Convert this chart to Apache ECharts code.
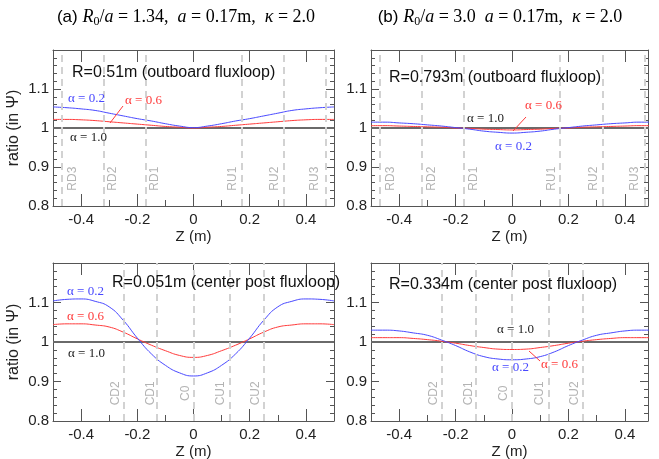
<!DOCTYPE html>
<html><head><meta charset="utf-8">
<script src="https://cdn.jsdelivr.net/npm/echarts@6/dist/echarts.min.js"></script>
<style>html,body{margin:0;padding:0;background:#fff}#c{width:659px;height:459px}</style>
</head><body><div id="c"></div><script>
// ---------- data ----------
const zValues = [-0.5,-0.45,-0.4,-0.35,-0.3,-0.25,-0.2,-0.15,-0.1,-0.05,0,0.05,0.1,0.15,0.2,0.25,0.3,0.35,0.4,0.45,0.5];
const alpha10 = [1,1,1,1,1,1,1,1,1,1,1,1,1,1,1,1,1,1,1,1,1];
// (a) outboard R=0.51m
const outA_alpha02 = [1.054,1.052,1.049,1.045,1.038,1.031,1.024,1.018,1.011,1.005,1.001,1.005,1.011,1.018,1.024,1.031,1.038,1.045,1.049,1.052,1.054];
const outA_alpha06 = [1.022,1.022,1.021,1.019,1.016,1.013,1.010,1.007,1.004,1.002,1.000,1.002,1.004,1.007,1.010,1.013,1.016,1.019,1.021,1.022,1.022];
// (b) outboard R=0.793m
const outB_alpha02 = [1.015,1.015,1.013,1.011,1.008,1.005,1.001,0.997,0.992,0.989,0.987,0.989,0.992,0.997,1.001,1.005,1.008,1.011,1.013,1.015,1.015];
const outB_alpha06 = [1.006,1.006,1.005,1.004,1.003,1.002,1.000,0.999,0.997,0.996,0.995,0.996,0.997,0.999,1.000,1.002,1.003,1.004,1.005,1.006,1.006];
// (a) center post R=0.051m
const cenA_alpha02 = [1.104,1.108,1.109,1.103,1.089,1.055,1.010,0.970,0.941,0.922,0.914,0.922,0.941,0.970,1.010,1.055,1.089,1.103,1.109,1.108,1.104];
const cenA_alpha06 = [1.044,1.046,1.046,1.043,1.038,1.025,1.008,0.992,0.978,0.966,0.961,0.966,0.978,0.992,1.008,1.025,1.038,1.043,1.046,1.046,1.044];
// (b) center post R=0.334m
const cenB_alpha02 = [1.030,1.030,1.028,1.023,1.017,1.005,0.991,0.975,0.963,0.957,0.955,0.957,0.963,0.975,0.991,1.005,1.017,1.023,1.028,1.030,1.030];
const cenB_alpha06 = [1.011,1.011,1.011,1.009,1.006,1.002,0.997,0.991,0.986,0.982,0.981,0.982,0.986,0.991,0.997,1.002,1.006,1.009,1.011,1.011,1.011];
// flux loop sensor positions
const outboardSensorZ = [-0.465,-0.322,-0.173,0.173,0.322,0.465];
const outboardSensorNames = ['RD3','RD2','RD1','RU1','RU2','RU3'];
const centerSensorZ = [-0.25,-0.125,0,0.125,0.25];
const centerSensorNames = ['CD2','CD1','C0','CU1','CU2'];
// ticks
const xMajorTicks = [-0.4,-0.2,0,0.2,0.4];
const xMinorTicks = [-0.3,-0.1,0.1,0.3];
const yTickLabels = [0.8,0.9,1,1.1];

// ---------- chart ----------
const SANS = '"Liberation Sans", Arial, sans-serif';
const SERIF = '"Liberation Serif", "Times New Roman", serif';
const AX = '#555';
const BLUE = '#4848ff', RED = '#ff3a3a', BLACK = '#6a6a6a';

const panels = [
  {left:53, top:50, width:281, height:156, xMax:0.5, blue:outA_alpha02, red:outA_alpha06, sz:outboardSensorZ, sn:outboardSensorNames, yName:'ratio (in Ψ)', outboard:true},
  {left:371, top:50, width:277, height:156, xMax:0.482, blue:outB_alpha02, red:outB_alpha06, sz:outboardSensorZ, sn:outboardSensorNames, yName:'', outboard:true},
  {left:53, top:263, width:281, height:158, xMax:0.5, blue:cenA_alpha02, red:cenA_alpha06, sz:centerSensorZ, sn:centerSensorNames, yName:'ratio (in Ψ)', outboard:false},
  {left:371, top:263, width:277, height:158, xMax:0.482, blue:cenB_alpha02, red:cenB_alpha06, sz:centerSensorZ, sn:centerSensorNames, yName:'', outboard:false}
];

const grid = [], xAxis = [], yAxis = [], series = [];
const zip = (xs, ys) => xs.map((x, i) => [x, ys[i]]);

panels.forEach((p, gi) => {
  grid.push({left:p.left, top:p.top, width:p.width, height:p.height, outerBoundsMode:'none', containLabel:false});
  const base = {type:'value', gridIndex:gi, min:-0.5, max:p.xMax, splitLine:{show:false}};
  xAxis.push(Object.assign({}, base, {
    position:'bottom',
    axisLine:{show:true, onZero:false, lineStyle:{color:AX, width:1}},
    axisTick:{show:true, inside:true, length:12, customValues:xMajorTicks, lineStyle:{color:AX}},
    axisLabel:{show:true, customValues:xMajorTicks, fontSize:15, color:'#222', margin:6, fontFamily:SANS},
    name:'Z (m)', nameLocation:'middle', nameGap:23,
    nameTextStyle:{fontSize:15, color:'#222', fontFamily:SANS}
  }));
  xAxis.push(Object.assign({}, base, {
    position:'bottom',
    axisLine:{show:false, onZero:false},
    axisTick:{show:true, inside:true, length:6, customValues:xMinorTicks, lineStyle:{color:AX}},
    axisLabel:{show:false}
  }));
  xAxis.push(Object.assign({}, base, {
    position:'top',
    axisLine:{show:true, onZero:false, lineStyle:{color:AX, width:1}},
    axisTick:{show:true, inside:true, length:12, customValues:xMajorTicks, lineStyle:{color:AX}},
    axisLabel:{show:false}
  }));
  const ybase = {type:'value', gridIndex:gi, min:0.8, max:1.2, interval:0.1, splitLine:{show:false}, minorSplitLine:{show:false}};
  yAxis.push(Object.assign({}, ybase, {
    position:'left',
    axisLine:{show:true, onZero:false, lineStyle:{color:AX, width:1}},
    axisTick:{show:true, inside:true, length:8, lineStyle:{color:AX}},
    minorTick:{show:true, splitNumber:5, length:4, lineStyle:{color:AX}},
    axisLabel:{show:true, customValues:yTickLabels, fontSize:15, color:'#222', margin:4, fontFamily:SANS},
    name:p.yName, nameLocation:'middle', nameGap:31, nameRotate:90,
    nameTextStyle:{fontSize:16, color:'#222', fontFamily:SANS}
  }));
  yAxis.push(Object.assign({}, ybase, {
    position:'right',
    axisLine:{show:true, onZero:false, lineStyle:{color:AX, width:1}},
    axisTick:{show:true, inside:true, length:8, lineStyle:{color:AX}},
    minorTick:{show:true, splitNumber:5, length:4, lineStyle:{color:AX}},
    axisLabel:{show:false}
  }));
  const xi = gi * 3, yi = gi * 2;
  // sensor dashed lines
  series.push({
    type:'line', xAxisIndex:xi, yAxisIndex:yi, data:[], silent:true,
    markLine:{silent:true, symbol:['none','none'], animation:false, label:{show:false},
      lineStyle:{type:[7,5], color:'#d2d2d2', width:2},
      data:p.sz.map(v => ({xAxis:v}))}
  });
  // sensor labels
  series.push({
    type:'scatter', xAxisIndex:xi, yAxisIndex:yi, symbolSize:0, silent:true, animation:false,
    data:p.sz.map((v, k) => ({
      value:[v, 0.87], name:p.sn[k],
      label:{offset:[0, p.outboard ? (v < 0 ? 10 : -9) : -8]}
    })),
    label:{show:true, formatter:'{b}', rotate:90, position:'inside', fontSize:12, color:'#a0a0a0', fontFamily:SANS}
  });
  series.push({type:'line', xAxisIndex:xi, yAxisIndex:yi, data:zip(zValues, alpha10), showSymbol:false, silent:true, animation:false,
    lineStyle:{color:BLACK, width:2}});
  series.push({type:'line', xAxisIndex:xi, yAxisIndex:yi, data:zip(zValues, p.red), smooth:true, showSymbol:false, silent:true, animation:false,
    lineStyle:{color:RED, width:1}});
  series.push({type:'line', xAxisIndex:xi, yAxisIndex:yi, data:zip(zValues, p.blue), smooth:true, showSymbol:false, silent:true, animation:false,
    lineStyle:{color:BLUE, width:1}});
});

function txt(x, y, text, font, fill) {
  return {type:'text', x:x, y:y, silent:true, z:100,
    style:{text:text, font:font, fill:fill, align:'left', verticalAlign:'middle'}};
}
function ln(x1, y1, x2, y2, c) {
  return {type:'line', silent:true, z:100, shape:{x1:x1, y1:y1, x2:x2, y2:y2}, style:{stroke:c, lineWidth:1}};
}
const F16 = '16px ' + SANS;
const FA = '13px ' + SERIF;
const richStyle = {
  s:{fontFamily:SANS, fontSize:17, color:'#222', lineHeight:22, verticalAlign:'middle'},
  i:{fontFamily:SERIF, fontStyle:'italic', fontSize:18, color:'#222', lineHeight:22, verticalAlign:'middle'},
  m:{fontFamily:SERIF, fontSize:18, color:'#222', lineHeight:22, verticalAlign:'middle'},
  sub:{fontFamily:SERIF, fontSize:12, color:'#222', lineHeight:22, verticalAlign:'bottom'}
};
function title(x, text) {
  return {type:'text', x:x, y:17, silent:true,
    style:{text:text, rich:richStyle, align:'center', verticalAlign:'middle'}};
}
const graphic = [
  title(186, '{s|(a) }{i|R}{sub|0}{m|/}{i|a}{m| = 1.34,  }{i|a}{m| = 0.17m,  }{i|κ}{m| = 2.0}'),
  title(500, '{s|(b) }{i|R}{sub|0}{m|/}{i|a}{m| = 3.0  }{i|a}{m| = 0.17m,  }{i|κ}{m| = 2.0}'),
  // panel 1
  txt(72, 73, 'R=0.51m (outboard fluxloop)', F16, '#111'),
  txt(68, 99, 'α = 0.2', FA, BLUE),
  txt(125, 101, 'α = 0.6', FA, RED),
  ln(110, 123, 123, 106, RED),
  txt(70, 138, 'α = 1.0', FA, '#222'),
  // panel 2
  txt(389, 78, 'R=0.793m (outboard fluxloop)', F16, '#111'),
  txt(525, 106, 'α = 0.6', FA, RED),
  ln(513, 131, 526, 117, RED),
  txt(467, 119, 'α = 1.0', FA, '#222'),
  txt(495, 147, 'α = 0.2', FA, BLUE),
  // panel 3
  txt(112, 283, 'R=0.051m (center post fluxloop)', F16, '#111'),
  txt(67, 292, 'α = 0.2', FA, BLUE),
  txt(67, 317, 'α = 0.6', FA, RED),
  txt(68, 354, 'α = 1.0', FA, '#222'),
  // panel 4
  txt(389, 285, 'R=0.334m (center post fluxloop)', F16, '#111'),
  txt(497, 330, 'α = 1.0', FA, '#222'),
  txt(492, 368, 'α = 0.2', FA, BLUE),
  txt(541, 365, 'α = 0.6', FA, RED),
  ln(529, 351, 540, 361, RED)
];

const chart = echarts.init(document.getElementById('c'), null, {renderer:'canvas'});
chart.setOption({animation:false, backgroundColor:'#fff', grid, xAxis, yAxis, series, graphic});
</script></body></html>
